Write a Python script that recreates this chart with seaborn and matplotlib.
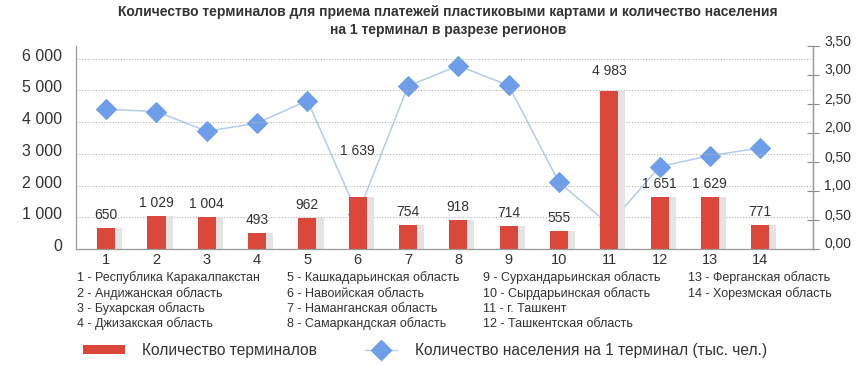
import numpy as np
import pandas as pd
import matplotlib
matplotlib.use("Agg")
import matplotlib.pyplot as plt
import seaborn as sns
from matplotlib import font_manager
from matplotlib.patches import Rectangle
from matplotlib.lines import Line2D
from matplotlib.transforms import ScaledTranslation
from matplotlib.ticker import FuncFormatter

# ---------------- data ----------------
categories = [str(i) for i in range(1, 15)]
terminals = [650, 1029, 1004, 493, 962, 1639, 754, 918, 714, 555, 4983, 1651, 1629, 771]
pop_per_terminal = [2.41, 2.37, 2.03, 2.17, 2.56, 0.60, 2.81, 3.16, 2.82, 1.15, 0.42, 1.42, 1.61, 1.74]
left_ticks = [0, 1000, 2000, 3000, 4000, 5000, 6000]
right_ticks = [0.0, 0.5, 1.0, 1.5, 2.0, 2.5, 3.0, 3.5]
right_tick_labels = ["0,00", "0,50", "1,00", "0,50", "2,00", "2,50", "3,00", "3,50"]
region_names = [
    "1 - Республика Каракалпакстан", "2 - Андижанская область", "3 - Бухарская область",
    "4 - Джизакская область", "5 - Кашкадарьинская область", "6 - Навоийская область",
    "7 - Наманганская область", "8 - Самаркандская область", "9 - Сурхандарьинская область",
    "10 - Сырдарьинская область", "11 - г. Ташкент", "12 - Ташкентская область",
    "13 - Ферганская область", "14 - Хорезмская область",
]
title = ("Количество терминалов для приема платежей пластиковыми картами и количество населения\n"
         "на 1 терминал в разрезе регионов")
legend_bar = "Количество терминалов"
legend_line = "Количество населения на 1 терминал (тыс. чел.)"

# ---------------- style ----------------
sns.set_style("white")
names = {f.name for f in font_manager.fontManager.ttflist}
base_font = "Liberation Sans" if "Liberation Sans" in names else "DejaVu Sans"
narrow_font = "Liberation Sans Narrow" if "Liberation Sans Narrow" in names else base_font
plt.rcParams["font.family"] = [base_font, "DejaVu Sans"]

BAR_RED = "#d9483a"
SHADOW = "#e4e4e4"
LINE_BLUE = "#b3cdee"
DIAMOND = "#6e9de9"
TXT = "#333333"
GRID = "#b5b5b5"

W, H = 867, 365
fig = plt.figure(figsize=(W / 100, H / 100), dpi=100)
ax_l, ax_r, ax_t, ax_b = 76, 813, 46, 249
ax = fig.add_axes([ax_l / W, 1 - ax_b / H, (ax_r - ax_l) / W, (ax_b - ax_t) / H])
ax2 = ax.twinx()

df = pd.DataFrame({"region": categories, "terminals": terminals, "pop": pop_per_terminal})
pos = np.arange(len(categories))

# shadow bars then red bars
ax.bar(pos + 0.25, df["terminals"], width=0.14, color=SHADOW, zorder=1, linewidth=0)
sns.barplot(data=df, x="region", y="terminals", ax=ax, color=BAR_RED, width=0.36,
            saturation=1, zorder=2, linewidth=0)

# line on secondary axis (drawn below bars)
sns.lineplot(x=pos, y=df["pop"], ax=ax2, color=LINE_BLUE, linewidth=1.1, marker="D",
             markersize=10, markerfacecolor=DIAMOND, markeredgecolor=DIAMOND, zorder=1)

ax.set_zorder(ax2.get_zorder() + 1)
ax.patch.set_visible(False)

ax.set_xlim(-0.6, 14.05)
ax.set_ylim(0, 6400)
ax2.set_ylim(0, 3.5)

# left axis
ax.set_yticks(left_ticks)
ax.yaxis.set_major_formatter(FuncFormatter(lambda v, p: f"{int(v):,}".replace(",", " ")))
ax.tick_params(axis="y", length=0, pad=10, labelsize=11.5, labelcolor=TXT)
for lab in ax.get_yticklabels():
    lab.set_transform(lab.get_transform() + ScaledTranslation(0, 4 / 100, fig.dpi_scale_trans))
ax.yaxis.grid(True, linestyle=(0, (1, 1.5)), color=GRID, linewidth=0.8)
ax.set_axisbelow(True)
ax.set_xlabel("")
ax.set_ylabel("")
ax.tick_params(axis="x", length=0, pad=3, labelsize=10.5, labelcolor=TXT)

# right axis
ax2.set_yticks(right_ticks)
ax2.set_yticklabels(right_tick_labels)
ax2.tick_params(axis="y", direction="inout", length=8, width=0.8, color="#888888",
                pad=4, labelsize=10, labelcolor=TXT)
for lab in ax2.get_yticklabels():
    lab.set_transform(lab.get_transform() + ScaledTranslation(0, 6 / 100, fig.dpi_scale_trans))
ax2.set_ylabel("")
ax2.grid(False)

for a in (ax, ax2):
    a.spines["top"].set_visible(False)
    for s in ("left", "right", "bottom"):
        a.spines[s].set_color("#9a9a9a")
        a.spines[s].set_linewidth(0.9)
ax2.spines["left"].set_visible(False)
ax2.spines["bottom"].set_visible(False)

# bar value labels
offsets_px = [13] * len(categories)
offsets_px[5] = 46
offsets_px[10] = 20
for i, v in enumerate(terminals):
    ax.annotate(f"{v:,}".replace(",", " "), xy=(pos[i], v), xytext=(0, offsets_px[i] * 0.72),
                textcoords="offset points", ha="center", va="center",
                fontsize=10, color=TXT, zorder=5)

# title
fig.text(448 / W, 1 - 21 / H, title, ha="center", va="center", fontsize=10,
         fontweight="bold", color=TXT, family=[narrow_font, "DejaVu Sans"], linespacing=1.45)

# region key
col_x = [77, 287, 483, 688]
row_y = [278, 294, 309, 324]
for k, name in enumerate(region_names):
    c, r = divmod(k, 4)
    fig.text(col_x[c] / W, 1 - row_y[r] / H, name, ha="left", va="center",
             fontsize=9, color=TXT)

# legend (manual)
fig.patches.append(Rectangle((83 / W, 1 - 354 / H), 42 / W, 9 / H, transform=fig.transFigure,
                             facecolor=BAR_RED, edgecolor="none"))
fig.text(142 / W, 1 - 350 / H, legend_bar, ha="left", va="center", fontsize=11.2, color=TXT)
fig.lines.append(Line2D([365 / W, 397 / W], [1 - 350 / H, 1 - 350 / H], transform=fig.transFigure,
                        color=LINE_BLUE, linewidth=1))
fig.lines.append(Line2D([381 / W], [1 - 350 / H], transform=fig.transFigure, marker="D",
                        markersize=10, color=DIAMOND, linestyle="none"))
fig.text(415 / W, 1 - 350 / H, legend_line, ha="left", va="center", fontsize=11.2, color=TXT)

fig.savefig("out.png", dpi=100)
